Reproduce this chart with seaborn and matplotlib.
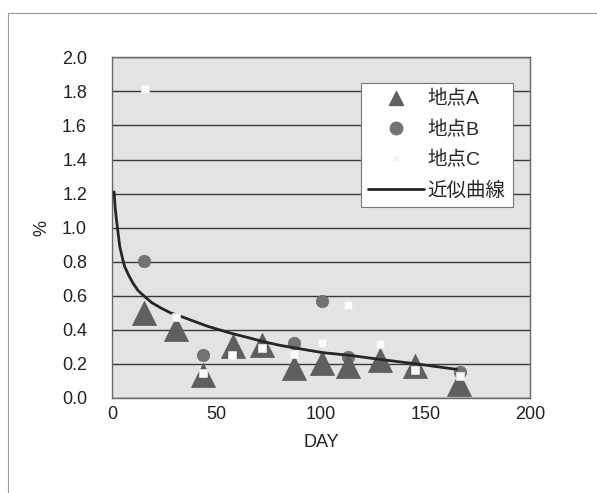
import matplotlib
matplotlib.use("Agg")
import matplotlib.pyplot as plt
from matplotlib.lines import Line2D
import seaborn as sns
import pandas as pd

# ---- data ----
a_day = [15.5, 30.6, 43.7, 58.0, 72.0, 87.0, 100.5, 113.0, 128.0, 145.0, 166.0]
a_val = [0.50, 0.405, 0.135, 0.305, 0.31, 0.175, 0.205, 0.19, 0.226, 0.19, 0.085]

b_day = [15.5, 43.7, 87.0, 100.3, 113.0, 166.3]
b_val = [0.805, 0.255, 0.325, 0.57, 0.243, 0.15]

c_day = [16.0, 30.6, 43.7, 57.5, 72.0, 87.2, 100.3, 113.0, 128.0, 145.0, 166.3]
c_val = [1.815, 0.475, 0.145, 0.25, 0.296, 0.26, 0.32, 0.547, 0.318, 0.167, 0.13]

fit_day = [1.0, 1.5, 2.1, 3.0, 3.7, 5.0, 6.1, 8.0, 10.0, 12.5, 15.6, 19.0, 23.6, 28.0,
           33.2, 40.0, 46.0, 57.0, 65.0, 72.4, 80.0, 88.4, 101.0, 113.9, 129.8, 145.8, 165.0]
fit_val = [1.21, 1.12, 1.05, 0.96, 0.89, 0.82, 0.77, 0.72, 0.675, 0.63, 0.596, 0.56, 0.527, 0.50,
           0.478, 0.447, 0.42, 0.38, 0.355, 0.331, 0.31, 0.292, 0.266, 0.25, 0.224, 0.20, 0.168]

labels = ["地点A", "地点B", "地点C", "近似曲線"]
x_ticks = [0, 50, 100, 150, 200]
y_ticks = [0.0, 0.2, 0.4, 0.6, 0.8, 1.0, 1.2, 1.4, 1.6, 1.8, 2.0]

sns.set_style("white")
plt.rcParams["font.family"] = ["Liberation Sans", "Noto Sans CJK JP", "DejaVu Sans"]

fig = plt.figure(figsize=(5.97, 4.93), dpi=100)
fig.patch.set_facecolor("white")
ax = fig.add_axes([112 / 597, 1 - 398 / 493, 418 / 597, (398 - 57.3) / 493])
ax.set_facecolor("#e3e3e3")

dfa = pd.DataFrame({"day": a_day, "val": a_val})
dfb = pd.DataFrame({"day": b_day, "val": b_val})
dfc = pd.DataFrame({"day": c_day, "val": c_val})
dff = pd.DataFrame({"day": fit_day, "val": fit_val})

sns.scatterplot(data=dfb, x="day", y="val", ax=ax, marker="o", s=80,
                color="#737373", edgecolor="#6a6a6a", linewidth=0.5, zorder=3)
sns.scatterplot(data=dfa, x="day", y="val", ax=ax, marker="^", s=300,
                color="#5f5f5f", edgecolor="#555555", linewidth=0.5, zorder=4)
sns.lineplot(data=dff, x="day", y="val", ax=ax, color="#262626", linewidth=2.0,
             zorder=5, sort=False, estimator=None)
sns.scatterplot(data=dfc, x="day", y="val", ax=ax, marker="s", s=30,
                color="#fbfbfb", edgecolor="#e8e8e8", linewidth=0.5, zorder=6)

ax.set_xlim(0, 200)
ax.set_ylim(0, 2.0)
ax.set_xticks(x_ticks)
ax.set_xticklabels([str(t) for t in x_ticks])
ax.set_yticks(y_ticks)
ax.set_yticklabels([f"{t:.1f}" for t in y_ticks])
ax.yaxis.grid(True, color="#3a3a3a", linewidth=1.0)
ax.xaxis.grid(False)
ax.set_axisbelow(True)
ax.tick_params(axis="x", direction="in", length=5, width=0.8, color="#555555",
               labelsize=13, pad=6, labelcolor="#222222")
ax.tick_params(axis="y", length=0, labelsize=13, pad=18, labelcolor="#222222")
for sp in ax.spines.values():
    sp.set_color("#666666")
    sp.set_linewidth(1.0)
    sp.set_linestyle((0, (3, 1)))

ax.set_xlabel("DAY", fontsize=13, color="#222222", labelpad=8)
ax.set_ylabel("%", fontsize=13, color="#222222", labelpad=8)

handles = [
    Line2D([], [], linestyle="none", marker="^", markersize=10, color="#5f5f5f"),
    Line2D([], [], linestyle="none", marker="o", markersize=9, color="#737373"),
    Line2D([], [], linestyle="none", marker="s", markersize=3, color="#f2f2f2"),
    Line2D([], [], color="#262626", linewidth=2.0),
]
leg = ax.legend(handles, labels, loc="upper left", bbox_to_anchor=(0.595, 0.925),
                fontsize=14, frameon=True, fancybox=False, framealpha=1,
                edgecolor="#777777", handlelength=2.9, handletextpad=0.15,
                labelspacing=0.62, borderpad=0.38, borderaxespad=0)
leg.get_frame().set_linewidth(0.8)

# outer chart border (top and left visible)
fig.add_artist(Line2D([8 / 597, 1], [1 - 13 / 493, 1 - 13 / 493], transform=fig.transFigure,
                      color="#9a9a9a", linewidth=0.8))
fig.add_artist(Line2D([8 / 597, 8 / 597], [0, 1 - 13 / 493], transform=fig.transFigure,
                      color="#9a9a9a", linewidth=0.8))

fig.savefig("out.png", dpi=100)
